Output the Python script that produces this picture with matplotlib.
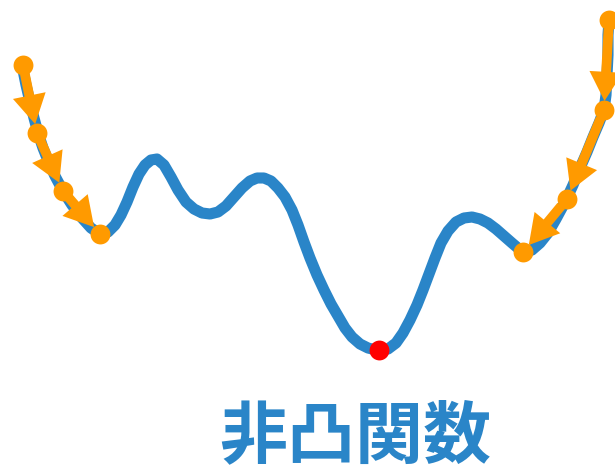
import matplotlib
matplotlib.use("Agg")
import matplotlib.pyplot as plt
from matplotlib.patches import FancyArrowPatch

# Curve samples (x, height)
curve_x = [22, 26, 30, 34, 38, 43, 49, 55, 63, 72, 82, 91, 100, 108, 115, 121, 127, 133,
           139, 145, 151, 157, 164, 171, 178, 186, 194, 202, 210, 218, 226, 234, 242, 250,
           257, 264, 271, 278, 285, 292, 298, 304, 310, 317, 324, 331, 338, 345, 352, 360,
           368, 376, 380, 388, 396, 403, 410, 417, 423, 429, 435, 441, 448, 456, 464, 472,
           480, 488, 496, 504, 512, 519, 525, 532, 540, 548, 556, 563, 567, 573, 580, 587,
           593, 599, 604, 606, 607, 608, 608, 609]
curve_py = [65, 85, 102, 118, 133, 148, 163, 176, 191, 205, 218, 228, 234, 232, 225, 215, 202, 187,
            174, 165, 160, 159, 165, 177, 190, 202, 209, 213, 214, 212, 206, 197, 188, 181,
            178, 178, 181, 188, 197, 210, 225, 242, 258, 275, 290, 304, 316, 328, 337, 344,
            348, 350, 350, 349, 343, 333, 320, 305, 290, 274, 258, 243, 231, 222, 218, 217,
            219, 223, 229, 236, 243, 249, 252, 250, 243, 233, 219, 206, 198, 185, 168, 152,
            137, 123, 110, 95, 75, 55, 35, 20]
H = 471
curve_y = [H - v for v in curve_py]

# Gradient-descent steps (left start and right start)
left_x = [23, 37, 63, 100]
left_y = [H - 65, H - 133, H - 191, H - 234]
right_x = [609, 604, 567, 523]
right_y = [H - 20, H - 110, H - 199, H - 252]

# Global minimum
min_x = [379]
min_y = [H - 350]

title = "非凸関数"

BLUE = "#2a85c8"
ORANGE = "#ff9a00"
RED = "#ff0000"

fig = plt.figure(figsize=(6.15, 4.71), dpi=100)
ax = fig.add_axes([0, 0, 1, 1])
ax.set_xlim(0, 615)
ax.set_ylim(0, 471)
ax.axis("off")

ax.plot(curve_x, curve_y, color=BLUE, lw=8, solid_capstyle="round",
        solid_joinstyle="round", zorder=1)

for xs, ys in [(left_x, left_y), (right_x, right_y)]:
    for i in range(len(xs) - 1):
        arr = FancyArrowPatch((xs[i], ys[i]), (xs[i + 1], ys[i + 1]),
                              arrowstyle="simple,head_width=1.2,head_length=1.05,tail_width=0.35",
                              mutation_scale=20, shrinkA=6.5, shrinkB=6.5,
                              color=ORANGE, lw=0, zorder=2)
        ax.add_patch(arr)
    ax.plot(xs, ys, linestyle="none", marker="o", ms=14.3, color=ORANGE,
            markeredgewidth=0, zorder=3, clip_on=False)

ax.plot(min_x, min_y, linestyle="none", marker="o", ms=14.3, color=RED,
        markeredgewidth=0, zorder=3)

fig.text(355 / 615, 1 - 438 / 471, title, ha="center", va="center",
         fontsize=49, fontweight="bold", color=BLUE,
         family=["Noto Sans CJK JP", "DejaVu Sans"])

fig.savefig("out.png", dpi=100)
